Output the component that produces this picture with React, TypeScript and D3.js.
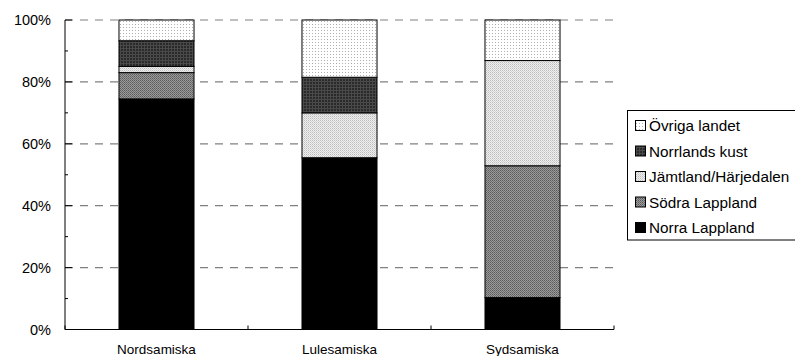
import React from "react";
import * as d3 from "d3";

// Share of speakers per region, in percent (stack order bottom to top)
const languages = ["Nordsamiska", "Lulesamiska", "Sydsamiska"];
const regions = ["Norra Lappland", "Södra Lappland", "Jämtland/Härjedalen", "Norrlands kust", "Övriga landet"];
const norraLappland = [74.5, 55.5, 10.3];
const sodraLappland = [8.5, 0, 42.6];
const jamtland = [2.0, 14.5, 34.0];
const norrlandsKust = [8.3, 11.5, 0];
const ovrigaLandet = [6.7, 18.5, 13.1];
const yTicks = [0, 20, 40, 60, 80, 100];

const seriesValues = [norraLappland, sodraLappland, jamtland, norrlandsKust, ovrigaLandet];
const fills = ["#000", "url(#pSodra)", "url(#pJamt)", "url(#pKust)", "url(#pOvr)"];

const W = 795;
const H = 356;
const left = 65;
const right = 614;
const top = 20;
const bottom = 329.5;
const font = "'Liberation Sans', Arial, sans-serif";

export default function App() {
  const x = d3.scaleBand<string>().domain(languages).range([left, right]).paddingInner(0.59).paddingOuter(0.295);
  const y = d3.scaleLinear().domain([0, 100]).range([bottom, top]);

  const table = languages.map((lang, i) => {
    const row: any = { lang };
    regions.forEach((r, k) => (row[r] = seriesValues[k][i]));
    return row;
  });
  const stacked = d3.stack<any>().keys(regions)(table);

  const minor = d3.range(0, 101, 10);
  const catEdges = d3.range(0, languages.length + 1).map((i) => left + ((right - left) / languages.length) * i);

  return (
    <svg width={W} height={H} style={{ position: "absolute", left: 0, top: 0, background: "#fff" }}>
      <defs>
        <pattern id="pOvr" width="3" height="3" patternUnits="userSpaceOnUse">
          <rect width="3" height="3" fill="#fff" />
          <rect x="0" y="0" width="1" height="1" fill="#b0b0b0" />
        </pattern>
        <pattern id="pJamt" width="2" height="2" patternUnits="userSpaceOnUse">
          <rect width="2" height="2" fill="#eeeeee" />
          <rect x="0" y="0" width="1" height="1" fill="#bdbdbd" />
          <rect x="1" y="1" width="1" height="1" fill="#d4d4d4" />
        </pattern>
        <pattern id="pSodra" width="2" height="2" patternUnits="userSpaceOnUse">
          <rect width="2" height="2" fill="#9a9a9a" />
          <rect x="0" y="0" width="1" height="1" fill="#5a5a5a" />
          <rect x="1" y="1" width="1" height="1" fill="#707070" />
        </pattern>
        <pattern id="pKust" width="3" height="3" patternUnits="userSpaceOnUse">
          <rect width="3" height="3" fill="#2a2a2a" />
          <rect x="0" y="0" width="3" height="1" fill="#4a4a4a" />
          <rect x="0" y="0" width="1" height="3" fill="#4a4a4a" />
        </pattern>
      </defs>

      {/* dashed gridlines */}
      {yTicks.filter((t) => t > 0).map((t) => (
        <line key={t} x1={left} x2={right} y1={y(t)} y2={y(t)} stroke="#808080" strokeWidth={1.2} strokeDasharray="8,7" />
      ))}

      {/* stacked bars */}
      {stacked.map((layer, k) => (
        <g key={regions[k]}>
          {layer.map((d, i) =>
            d[1] - d[0] > 0 ? (
              <rect
                key={i}
                x={x(languages[i])}
                width={x.bandwidth()}
                y={y(d[1])}
                height={y(d[0]) - y(d[1])}
                fill={fills[k]}
                stroke="#000"
                strokeWidth={1}
              />
            ) : null
          )}
        </g>
      ))}

      {/* axes */}
      <line x1={left} x2={left} y1={top} y2={bottom} stroke="#000" />
      <line x1={left} x2={right} y1={bottom} y2={bottom} stroke="#000" />
      {minor.map((t) => (
        <line key={t} x1={left} x2={left + (t % 20 === 0 ? 7 : 3)} y1={y(t)} y2={y(t)} stroke="#000" />
      ))}
      {catEdges.map((cx, i) => (
        <line key={i} x1={cx} x2={cx} y1={bottom} y2={bottom - 4} stroke="#000" />
      ))}
      {yTicks.map((t) => (
        <text key={t} x={51} y={y(t)} dy="0.35em" textAnchor="end" fontFamily={font} fontSize={14.5} fill="#000">
          {t}%
        </text>
      ))}
      {languages.map((l) => (
        <text key={l} x={(x(l) as number) + x.bandwidth() / 2} y={349} dy="0.35em" textAnchor="middle" fontFamily={font} fontSize={13.5} fill="#000">
          {l}
        </text>
      ))}

      {/* legend */}
      <rect x={627.5} y={110.5} width={180} height={129.5} fill="#fff" stroke="#000" />
      {regions
        .slice()
        .reverse()
        .map((r, j) => {
          const k = regions.length - 1 - j;
          const cy = 126 + j * 25.5;
          return (
            <g key={r}>
              <rect x={635.5} y={cy - 5.5} width={10} height={10} fill={fills[k]} stroke="#000" />
              <text x={649} y={cy} dy="0.35em" fontFamily={font} fontSize={15.3} fill="#000">
                {r}
              </text>
            </g>
          );
        })}
    </svg>
  );
}
